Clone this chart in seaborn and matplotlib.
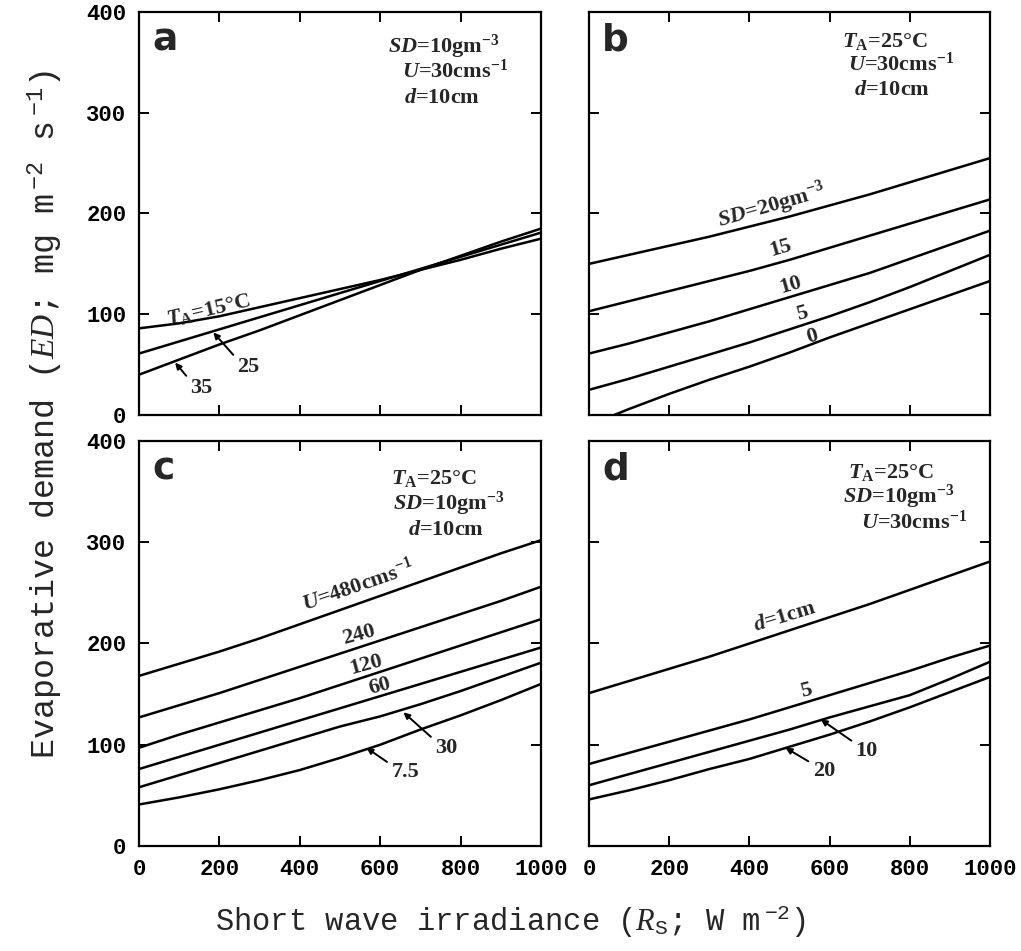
import numpy as np
import pandas as pd
import matplotlib
matplotlib.use("Agg")
import matplotlib.pyplot as plt
import seaborn as sns

# Short wave irradiance grid (W m-2)
irradiance = [0, 100, 200, 300, 400, 500, 600, 700, 800, 900, 1000]

# (a) air temperature, SD=10 g m-3, U=30 cm s-1, d=10 cm
ed_ta15 = [86, 91, 98, 107, 116, 125, 134, 144, 154, 165, 175]
ed_ta25 = [61, 73, 85, 97, 109, 121, 133, 145, 157, 169, 181]
ed_ta35 = [40, 55, 70, 84, 99, 114, 129, 144, 158, 172, 185]

# (b) saturation deficit, TA=25 C, U=30 cm s-1, d=10 cm
ed_sd20 = [150, 159, 168, 177, 187, 197, 208, 219, 231, 243, 255]
ed_sd15 = [103, 113, 123, 133, 143, 154, 166, 178, 190, 202, 214]
ed_sd10 = [61, 71, 82, 93, 105, 117, 129, 141, 155, 169, 183]
ed_sd5 = [25, 36, 48, 60, 72, 85, 98, 112, 127, 143, 159]
ed_sd0 = [-10, 6, 21, 35, 48, 62, 77, 91, 105, 119, 133]

# (c) wind speed, TA=25 C, SD=10 g m-3, d=10 cm
ed_u480 = [168, 180, 192, 205, 219, 233, 247, 261, 275, 289, 302]
ed_u240 = [127, 139, 151, 164, 177, 190, 203, 216, 229, 242, 256]
ed_u120 = [97, 110, 122, 134, 146, 159, 172, 185, 198, 211, 224]
ed_u60 = [76, 88, 100, 112, 124, 136, 148, 160, 172, 184, 196]
ed_u30 = [58, 70, 82, 94, 106, 118, 128, 140, 153, 167, 181]
ed_u7_5 = [41, 48, 56, 65, 75, 87, 100, 115, 129, 144, 160]

# (d) leaf dimension, TA=25 C, SD=10 g m-3, U=30 cm s-1
ed_d1 = [151, 163, 175, 187, 200, 213, 226, 239, 253, 267, 281]
ed_d5 = [81, 92, 103, 114, 125, 137, 149, 161, 173, 186, 198]
ed_d10 = [60, 71, 82, 93, 104, 115, 127, 138, 149, 165, 182]
ed_d20 = [46, 55, 65, 76, 86, 98, 110, 123, 137, 152, 167]

x_ticks = [0, 200, 400, 600, 800, 1000]
y_ticks = [0, 100, 200, 300, 400]

sns.set_theme(style="ticks")
plt.rcParams.update({
    "font.family": ["Liberation Mono", "DejaVu Sans Mono"],
    "mathtext.fontset": "custom",
    "mathtext.rm": "Liberation Serif:bold",
    "mathtext.it": "Liberation Serif:italic:bold",
    "mathtext.bf": "Liberation Serif:bold",
    "mathtext.tt": "Liberation Mono",
    "mathtext.sf": "Liberation Serif:italic",
    "axes.linewidth": 1.6,
    "axes.edgecolor": "black",
})

LW = 1.8
SERIF = dict(family=["Liberation Serif", "DejaVu Serif"], weight="bold")


def frame(series):
    rows = []
    for name, vals in series.items():
        for xv, yv in zip(irradiance, vals):
            rows.append((name, xv, yv))
    return pd.DataFrame(rows, columns=["series", "Rs", "ED"])


fig = plt.figure(figsize=(10.21, 9.51), dpi=100)
positions = {
    "a": [0.1361, 0.5636, 0.3937, 0.4238],
    "b": [0.5769, 0.5636, 0.3928, 0.4238],
    "c": [0.1361, 0.1104, 0.3937, 0.4259],
    "d": [0.5769, 0.1104, 0.3928, 0.4259],
}
panels = {
    "a": {"15": ed_ta15, "25": ed_ta25, "35": ed_ta35},
    "b": {"20": ed_sd20, "15": ed_sd15, "10": ed_sd10, "5": ed_sd5, "0": ed_sd0},
    "c": {"480": ed_u480, "240": ed_u240, "120": ed_u120, "60": ed_u60,
          "30": ed_u30, "7.5": ed_u7_5},
    "d": {"1": ed_d1, "5": ed_d5, "10": ed_d10, "20": ed_d20},
}

axes = {}
for key, pos in positions.items():
    ax = fig.add_axes(pos)
    df = frame(panels[key])
    names = list(panels[key].keys())
    sns.lineplot(data=df, x="Rs", y="ED", hue="series", hue_order=names,
                 palette=["black"] * len(names), linewidth=LW, legend=False,
                 estimator=None, ax=ax)
    ax.set_xlim(0, 1000)
    ax.set_ylim(0, 400)
    ax.set_xticks(x_ticks)
    ax.set_yticks(y_ticks)
    ax.set_xlabel("")
    ax.set_ylabel("")
    ax.tick_params(direction="in", length=7, width=1.4, top=True, right=True,
                   labelsize=16, colors="black")
    ax.tick_params(axis="y", pad=9)
    ax.tick_params(axis="x", pad=9)
    for lbl in ax.get_xticklabels() + ax.get_yticklabels():
        lbl.set_fontweight("bold")
        lbl.set_fontfamily(["Liberation Mono", "DejaVu Sans Mono"])
    if key in ("a", "b"):
        ax.tick_params(labelbottom=False)
    if key in ("b", "d"):
        ax.tick_params(labelleft=False)
    for s in ax.spines.values():
        s.set_visible(True)
        s.set_linewidth(1.6)
    ax.text(0.033, 0.905, key, transform=ax.transAxes, fontsize=27,
            fontweight="heavy", family=["DejaVu Sans"], va="baseline", ha="left")
    axes[key] = ax


def notes(ax, lines):
    for (txt, x, y) in lines:
        ax.text(x, y, txt, transform=ax.transAxes, fontsize=16, ha="left",
                va="baseline", **SERIF)


def leader(ax, txt, head, tail):
    ax.annotate(txt, xy=head, xytext=tail, fontsize=16, ha="left", va="top",
                arrowprops=dict(arrowstyle="-|>", color="black", lw=1.4,
                                mutation_scale=9, shrinkA=1, shrinkB=0,
                                relpos=(0.0, 0.85)),
                **SERIF)


# Panel a
ax = axes["a"]
notes(ax, [(r"$SD$=10gm$^{-3}$", 0.62, 0.898),
           (r"$U$=30cms$^{-1}$", 0.655, 0.837),
           (r"$d$=10cm", 0.66, 0.775)])
ax.text(172, 104, r"$T_{\mathrm{A}}$=15°C", fontsize=16, rotation=13,
        ha="center", va="center", rotation_mode="anchor", **SERIF)
leader(ax, "25", (185, 82), (245, 58))
leader(ax, "35", (90, 52), (128, 37))

# Panel b
ax = axes["b"]
notes(ax, [(r"$T_{\mathrm{A}}$=25°C", 0.631, 0.913),
           (r"$U$=30cms$^{-1}$", 0.646, 0.854),
           (r"$d$=10cm", 0.661, 0.795)])
for txt, xv, yv in [(r"$SD$=20gm$^{-3}$", 455, 207), ("15", 478, 166),
                    ("10", 503, 129), ("5", 530, 101), ("0", 555, 78)]:
    ax.text(xv, yv, txt, fontsize=16, rotation=16, ha="center", va="center",
            rotation_mode="anchor", **SERIF)

# Panel c
ax = axes["c"]
notes(ax, [(r"$T_{\mathrm{A}}$=25°C", 0.628, 0.893),
           (r"$SD$=10gm$^{-3}$", 0.633, 0.831),
           (r"$d$=10cm", 0.67, 0.769)])
for txt, xv, yv, rot in [(r"$U$=480cms$^{-1}$", 546, 257, 19), ("240", 546, 209, 15),
                         ("120", 566, 179, 15), ("60", 600, 158, 15)]:
    ax.text(xv, yv, txt, fontsize=16, rotation=rot, ha="center", va="center",
            rotation_mode="anchor", **SERIF)
leader(ax, "30", (658, 132), (737, 107))
leader(ax, "7.5", (566, 97), (628, 83))

# Panel d
ax = axes["d"]
notes(ax, [(r"$T_{\mathrm{A}}$=25°C", 0.645, 0.908),
           (r"$SD$=10gm$^{-3}$", 0.633, 0.847),
           (r"$U$=30cms$^{-1}$", 0.678, 0.783)])
for txt, xv, yv, rot in [(r"$d$=1cm", 490, 226, 17), ("5", 542, 153, 15)]:
    ax.text(xv, yv, txt, fontsize=16, rotation=rot, ha="center", va="center",
            rotation_mode="anchor", **SERIF)
leader(ax, "10", (578, 125), (665, 104))
leader(ax, "20", (490, 97), (558, 84))

# Shared axis titles
fig.text(0.5, 0.031,
         r"Short wave irradiance ($\mathsf{R}_{\mathtt{S}}$; W m$\,^{\mathtt{-2}}$)",
         ha="center", va="center", fontsize=22,
         family=["Liberation Mono", "DejaVu Sans Mono"])
fig.text(0.044, 0.564,
         r"Evaporative demand ($\mathsf{ED}$; mg m$\,^{\mathtt{-2}}$ s$\,^{\mathtt{-1}}$)",
         ha="center", va="center", rotation=90, fontsize=24,
         family=["Liberation Mono", "DejaVu Sans Mono"])

fig.savefig("out.png", dpi=100, facecolor="white")
